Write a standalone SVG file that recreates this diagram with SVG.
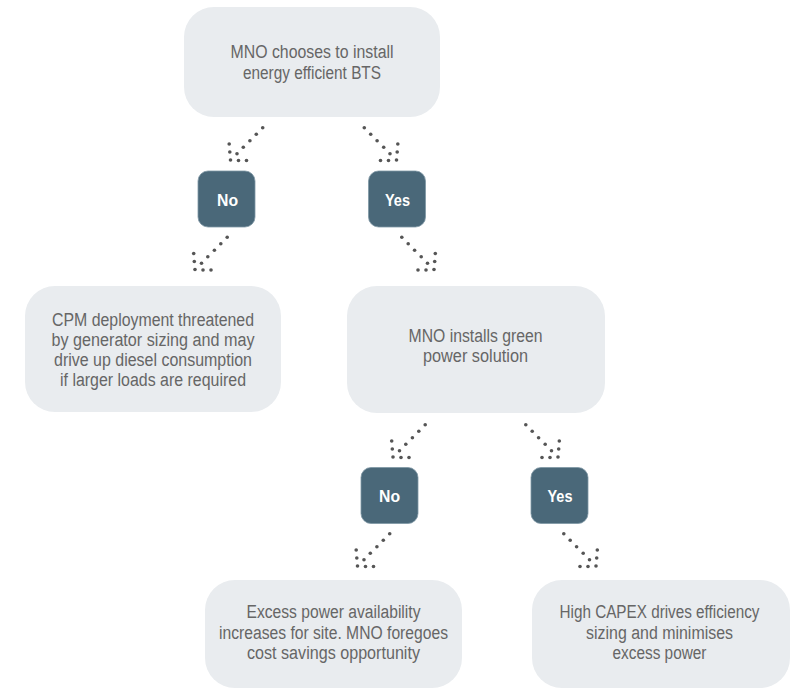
<svg xmlns="http://www.w3.org/2000/svg" width="796" height="689" viewBox="0 0 796 689">
  <style>
    .box { fill: #e9ecef; }
    .tag { fill: #4a6879; stroke: #7f97a4; stroke-width: 0.8; }
    .txt { font-family: "Liberation Sans", Arial, sans-serif; font-size: 18px; fill: #666666; text-anchor: middle; }
    .tagtxt { font-family: "Liberation Sans", Arial, sans-serif; font-size: 16px; font-weight: bold; fill: #ffffff; text-anchor: middle; }
    .dot { fill: #555555; }
  </style>
  <defs>
    <!-- dotted arrow heading down-left, tip at origin -->
    <g id="arrow-dl">
      <circle class="dot" cx="0" cy="0" r="1.8"/>
      <circle class="dot" cx="-0.7" cy="-8" r="1.8"/>
      <circle class="dot" cx="-1.3" cy="-16" r="1.8"/>
      <circle class="dot" cx="8" cy="0.5" r="1.8"/>
      <circle class="dot" cx="16" cy="0.5" r="1.8"/>
      <circle class="dot" cx="6.5" cy="-6.2" r="1.8"/>
      <circle class="dot" cx="12.8" cy="-12.8" r="1.8"/>
      <circle class="dot" cx="19.4" cy="-19.3" r="1.8"/>
      <circle class="dot" cx="25.8" cy="-25.8" r="1.8"/>
      <circle class="dot" cx="32.2" cy="-32.3" r="1.8"/>
    </g>
    <!-- dotted arrow heading down-right, tip at origin -->
    <g id="arrow-dr">
      <circle class="dot" cx="0" cy="0" r="1.8"/>
      <circle class="dot" cx="0.7" cy="-8" r="1.8"/>
      <circle class="dot" cx="1.3" cy="-16" r="1.8"/>
      <circle class="dot" cx="-8" cy="0.5" r="1.8"/>
      <circle class="dot" cx="-16" cy="0.5" r="1.8"/>
      <circle class="dot" cx="-6.5" cy="-6.2" r="1.8"/>
      <circle class="dot" cx="-12.8" cy="-12.8" r="1.8"/>
      <circle class="dot" cx="-19.4" cy="-19.3" r="1.8"/>
      <circle class="dot" cx="-25.8" cy="-25.8" r="1.8"/>
      <circle class="dot" cx="-32.2" cy="-32.3" r="1.8"/>
    </g>
  </defs>

  <rect width="796" height="689" fill="#ffffff"/>

  <g id="connectors">
    <use href="#arrow-dl" x="230.5" y="160"/>
    <use href="#arrow-dr" x="396.5" y="160"/>
    <use href="#arrow-dl" x="195" y="269.5"/>
    <use href="#arrow-dr" x="434" y="269.5"/>
    <use href="#arrow-dl" x="393" y="457"/>
    <use href="#arrow-dr" x="558" y="457"/>
    <use href="#arrow-dl" x="357.5" y="566"/>
    <use href="#arrow-dr" x="596" y="566"/>
  </g>

  <g id="bts-choice">
    <rect class="box" x="184" y="7" width="256" height="110" rx="30"/>
    <text class="txt" x="312" y="57.5" textLength="163" lengthAdjust="spacingAndGlyphs">MNO chooses to install</text>
    <text class="txt" x="312" y="78.5" textLength="138" lengthAdjust="spacingAndGlyphs">energy efficient BTS</text>
  </g>

  <g id="no-1">
    <rect class="tag" x="198" y="171" width="57" height="56" rx="10"/>
    <text class="tagtxt" x="227.5" y="205.5" textLength="21" lengthAdjust="spacingAndGlyphs">No</text>
  </g>

  <g id="yes-1">
    <rect class="tag" x="368.5" y="171" width="57" height="56" rx="10"/>
    <text class="tagtxt" x="397.5" y="205.5" textLength="25" lengthAdjust="spacingAndGlyphs">Yes</text>
  </g>

  <g id="cpm-threatened">
    <rect class="box" x="25" y="286" width="256" height="126" rx="30"/>
    <text class="txt" x="153" y="325.5" textLength="202" lengthAdjust="spacingAndGlyphs">CPM deployment threatened</text>
    <text class="txt" x="153" y="345.8" textLength="203" lengthAdjust="spacingAndGlyphs">by generator sizing and may</text>
    <text class="txt" x="153" y="366.1" textLength="198" lengthAdjust="spacingAndGlyphs">drive up diesel consumption</text>
    <text class="txt" x="153" y="386.4" textLength="186" lengthAdjust="spacingAndGlyphs">if larger loads are required</text>
  </g>

  <g id="green-power">
    <rect class="box" x="347" y="286" width="258" height="127" rx="30"/>
    <text class="txt" x="475.5" y="341.5" textLength="134" lengthAdjust="spacingAndGlyphs">MNO installs green</text>
    <text class="txt" x="475.5" y="362" textLength="105" lengthAdjust="spacingAndGlyphs">power solution</text>
  </g>

  <g id="no-2">
    <rect class="tag" x="361" y="467.5" width="57" height="56" rx="10"/>
    <text class="tagtxt" x="389.5" y="502" textLength="21" lengthAdjust="spacingAndGlyphs">No</text>
  </g>

  <g id="yes-2">
    <rect class="tag" x="531" y="467.5" width="57" height="56" rx="10"/>
    <text class="tagtxt" x="560" y="502" textLength="25" lengthAdjust="spacingAndGlyphs">Yes</text>
  </g>

  <g id="excess-power">
    <rect class="box" x="205" y="580" width="257" height="108" rx="30"/>
    <text class="txt" x="333.5" y="618" textLength="174" lengthAdjust="spacingAndGlyphs">Excess power availability</text>
    <text class="txt" x="333.5" y="638.5" textLength="229" lengthAdjust="spacingAndGlyphs">increases for site. MNO foregoes</text>
    <text class="txt" x="333.5" y="659" textLength="173" lengthAdjust="spacingAndGlyphs">cost savings opportunity</text>
  </g>

  <g id="high-capex">
    <rect class="box" x="532" y="580" width="258" height="108" rx="30"/>
    <text class="txt" x="659.5" y="618" textLength="200" lengthAdjust="spacingAndGlyphs">High CAPEX drives efficiency</text>
    <text class="txt" x="659.5" y="638.5" textLength="147" lengthAdjust="spacingAndGlyphs">sizing and minimises</text>
    <text class="txt" x="659.5" y="659" textLength="94" lengthAdjust="spacingAndGlyphs">excess power</text>
  </g>
</svg>
